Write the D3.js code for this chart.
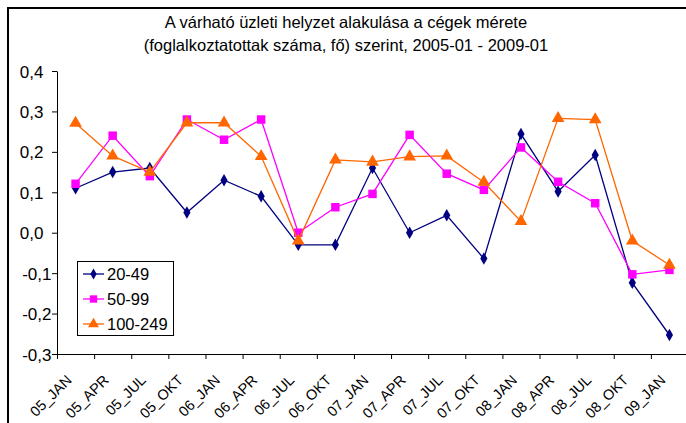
<!DOCTYPE html>
<html>
<head>
<meta charset="utf-8">
<script src="https://cdn.jsdelivr.net/npm/d3@7"></script>
<style>
  body { margin: 0; background: #fff; }
  text { font-family: "Liberation Sans", Arial, sans-serif; fill: #000; }
</style>
</head>
<body>
<svg id="chart" width="686" height="423"></svg>
<script>
// data
var categories = ["05_JAN","05_APR","05_JUL","05_OKT","06_JAN","06_APR","06_JUL","06_OKT",
  "07_JAN","07_APR","07_JUL","07_OKT","08_JAN","08_APR","08_JUL","08_OKT","09_JAN"];
var s2049  = [0.11, 0.15, 0.16, 0.05, 0.13, 0.09, -0.03, -0.03, 0.16, 0.00, 0.043, -0.064, 0.244, 0.102, 0.192, -0.124, -0.253];
var s5099  = [0.121, 0.24, 0.14, 0.28, 0.23, 0.28, 0.00, 0.063, 0.096, 0.242, 0.146, 0.106, 0.211, 0.126, 0.073, -0.103, -0.092];
var s100249 = [0.271, 0.19, 0.15, 0.272, 0.272, 0.189, -0.02, 0.18, 0.175, 0.188, 0.19, 0.125, 0.028, 0.283, 0.28, -0.02, -0.08];
var seriesNames = ["20-49", "50-99", "100-249"];
var yTicks = [-0.3, -0.2, -0.1, 0, 0.1, 0.2, 0.3, 0.4];
var titleLines = ["A várható üzleti helyzet alakulása a cégek mérete",
  "(foglalkoztatottak száma, fő) szerint, 2005-01 - 2009-01"];

var colors = ["#000080", "#ff00ff", "#ff6600"];
var shapes = [d3.symbolDiamond, d3.symbolSquare, d3.symbolTriangle];
var sizes = [45, 72, 70];

var svg = d3.select("#chart");
var plot = {left: 57, top: 71, right: 688, bottom: 354};

// outer frame
svg.append("rect")
  .attr("x", 8).attr("y", 8)
  .attr("width", 720).attr("height", 440)
  .attr("fill", "#fff")
  .attr("stroke", "#000").attr("stroke-width", 2);

// title
svg.append("g").selectAll("text")
  .data(titleLines).join("text")
  .attr("x", 346)
  .attr("y", (d, i) => 28 + i * 23)
  .attr("text-anchor", "middle")
  .style("font-size", "16.5px")
  .text(d => d);

var x = d3.scaleBand().domain(categories).range([plot.left, plot.right]);
var xEdge = d3.scaleLinear().domain([0, categories.length]).range([plot.left, plot.right]);
var y = d3.scaleLinear().domain([-0.3, 0.4]).range([plot.bottom, plot.top]);
var cx = c => x(c) + x.bandwidth() / 2;

// y axis
var yAxis = svg.append("g")
  .attr("transform", "translate(" + plot.left + ",0)")
  .call(d3.axisLeft(y).tickValues(yTicks).tickSize(5).tickSizeOuter(0)
    .tickFormat(d => d3.format(".1f")(d).replace(".", ",").replace("−", "-")));
yAxis.select(".domain").attr("stroke", "#000");
yAxis.selectAll(".tick line").attr("stroke", "#000");
yAxis.selectAll(".tick text")
  .attr("x", d => d < 0 ? -5.5 : -13.5)
  .attr("dy", "0.36em")
  .style("font-size", "17px")
  .style("font-family", "Liberation Sans, Arial, sans-serif");

// x axis (ticks between categories)
var xAxis = svg.append("g")
  .attr("transform", "translate(0," + plot.bottom + ")")
  .call(d3.axisBottom(xEdge).tickValues(d3.range(0, categories.length + 1))
    .tickSize(5).tickSizeOuter(0).tickFormat(""));
xAxis.select(".domain").attr("stroke", "#000");
xAxis.selectAll(".tick line").attr("stroke", "#000");

svg.append("g").selectAll("text")
  .data(categories).join("text")
  .attr("transform", d => "translate(" + (cx(d) - 3) + "," + (plot.bottom + 27) + ") rotate(-45)")
  .attr("text-anchor", "end")
  .style("font-size", "14.5px")
  .text(d => d);

// series
var allSeries = [s2049, s5099, s100249];
var line = d3.line().x((d, i) => cx(categories[i])).y(d => y(d));

allSeries.forEach((vals, k) => {
  var g = svg.append("g");
  g.append("path")
    .datum(vals)
    .attr("d", line)
    .attr("fill", "none")
    .attr("stroke", colors[k])
    .attr("stroke-width", 1.3);
  g.selectAll("path.m")
    .data(vals).join("path")
    .attr("class", "m")
    .attr("transform", (d, i) => "translate(" + cx(categories[i]) + "," + y(d) + ")")
    .attr("d", d3.symbol().type(shapes[k]).size(sizes[k]))
    .attr("fill", colors[k]);
});

// legend
var legend = svg.append("g");
legend.append("rect")
  .attr("x", 77.5).attr("y", 261.5)
  .attr("width", 96).attr("height", 74)
  .attr("fill", "#fff").attr("stroke", "#000");
seriesNames.forEach((name, k) => {
  var ly = 274 + k * 25;
  legend.append("line")
    .attr("x1", 83).attr("x2", 104).attr("y1", ly).attr("y2", ly)
    .attr("stroke", colors[k]).attr("stroke-width", 1.3);
  legend.append("path")
    .attr("transform", "translate(93.5," + ly + ")")
    .attr("d", d3.symbol().type(shapes[k]).size(sizes[k] * 0.75))
    .attr("fill", colors[k]);
  legend.append("text")
    .attr("x", 107).attr("y", ly + 6)
    .style("font-size", "16.5px")
    .text(name);
});
</script>
</body>
</html>
